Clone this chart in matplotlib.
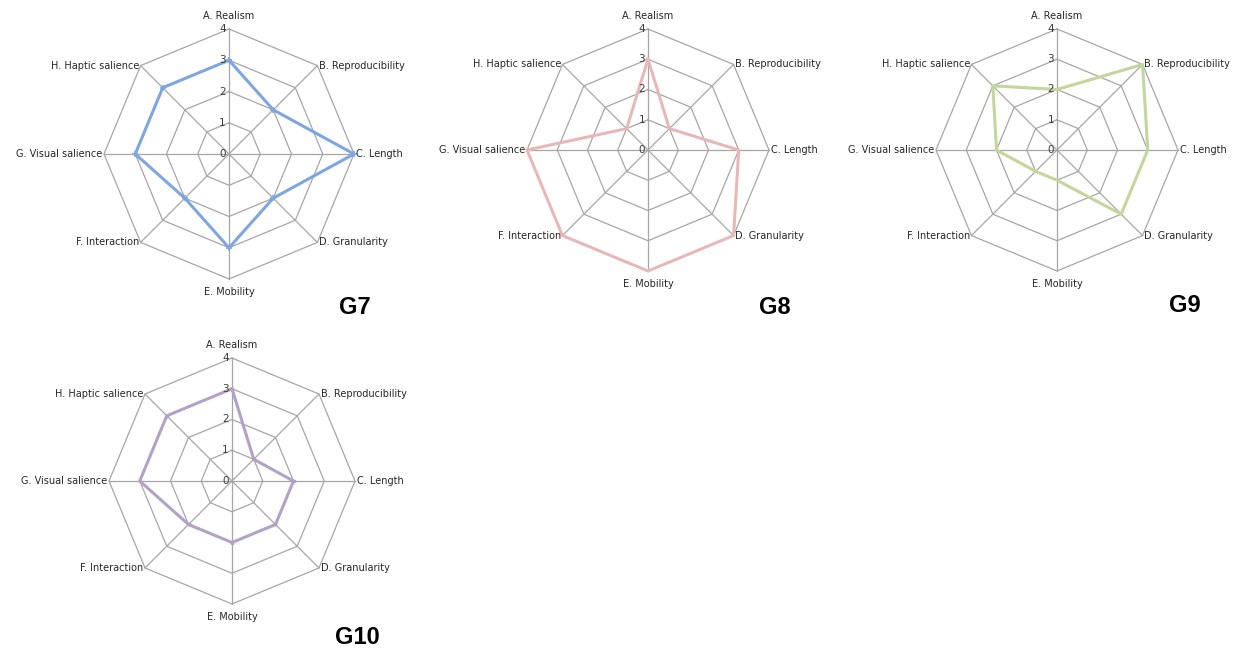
import numpy as np
import matplotlib.pyplot as plt

# kategori sumbu radar
categories = ["A. Realism", "B. Reproducibility", "C. Length", "D. Granularity",
              "E. Mobility", "F. Interaction", "G. Visual salience", "H. Haptic salience"]
tick_labels = ["0", "1", "2", "3", "4"]

# nilai tiap grup
g7 = [3, 2, 4, 2, 3, 2, 3, 3]
g8 = [3, 1, 3, 4, 4, 4, 4, 1]
g9 = [2, 4, 3, 3, 1, 1, 2, 3]
g10 = [3, 1, 2, 2, 2, 2, 3, 3]
names = ["G7", "G8", "G9", "G10"]

W, H = 1240, 653
fig = plt.figure(figsize=(W / 100, H / 100), dpi=100)

# (nilai, warna, pusat px, jari-jari px, posisi judul px, marker)
charts = [
    (g7, "#7EA6E0", (229, 154), 125, (355, 308), "+"),
    (g8, "#E6B9B8", (648, 150), 121, (775, 308), None),
    (g9, "#C3D69B", (1057, 150), 121, (1185, 305), None),
    (g10, "#B3A2C7", (232, 481), 123, (357, 637), "."),
]

n = len(categories)
ang = np.arange(n) * 2 * np.pi / n
ha_list = ["center", "left", "left", "left", "center", "right", "right", "right"]
va_list = ["bottom", "center", "center", "center", "top", "center", "center", "center"]

for idx, (vals, col, (cx, cy), R, (tx, ty), mk) in enumerate(charts):
    half = 200
    ax = fig.add_axes([(cx - half) / W, 1 - (cy + half) / H, 2 * half / W, 2 * half / H])
    lim = 4 * half / R
    ax.set_xlim(-lim, lim)
    ax.set_ylim(-lim, lim)
    ax.axis("off")
    ax.patch.set_alpha(0)
    # grid segi delapan
    for r in range(1, 5):
        xs = np.append(r * np.sin(ang), 0)
        ys = np.append(r * np.cos(ang), r)
        ax.plot(xs, ys, color="#A6A6A6", lw=0.9, zorder=1)
    for a in ang:
        ax.plot([0, 4 * np.sin(a)], [0, 4 * np.cos(a)], color="#A6A6A6", lw=0.9, zorder=1)
    # data
    v = np.array(vals + vals[:1], dtype=float)
    aa = np.append(ang, 0)
    ax.plot(v * np.sin(aa), v * np.cos(aa), color=col, lw=2.2, zorder=3,
            marker=mk, markersize=5 if mk == "+" else 3, markeredgewidth=1.2)
    # label tick
    for r, t in enumerate(tick_labels):
        ax.text(-0.1, r, t, ha="right", va="center", fontsize=7.5, color="#3A3A3A", zorder=4)
    # label kategori
    for k in range(n):
        px = 4 * np.sin(ang[k])
        py = 4 * np.cos(ang[k])
        dx = {"left": 0.05, "right": -0.05, "center": 0}[ha_list[k]]
        dy = {"bottom": 0.25, "top": -0.25, "center": 0}[va_list[k]]
        ax.text(px + dx, py + dy, categories[k], ha=ha_list[k], va=va_list[k],
                fontsize=7, color="#262626")
    fig.text(tx / W, 1 - ty / H, names[idx], ha="center", va="center",
             fontsize=17, fontweight="bold", color="black", family="Liberation Sans")

plt.savefig("out.png", dpi=100)
